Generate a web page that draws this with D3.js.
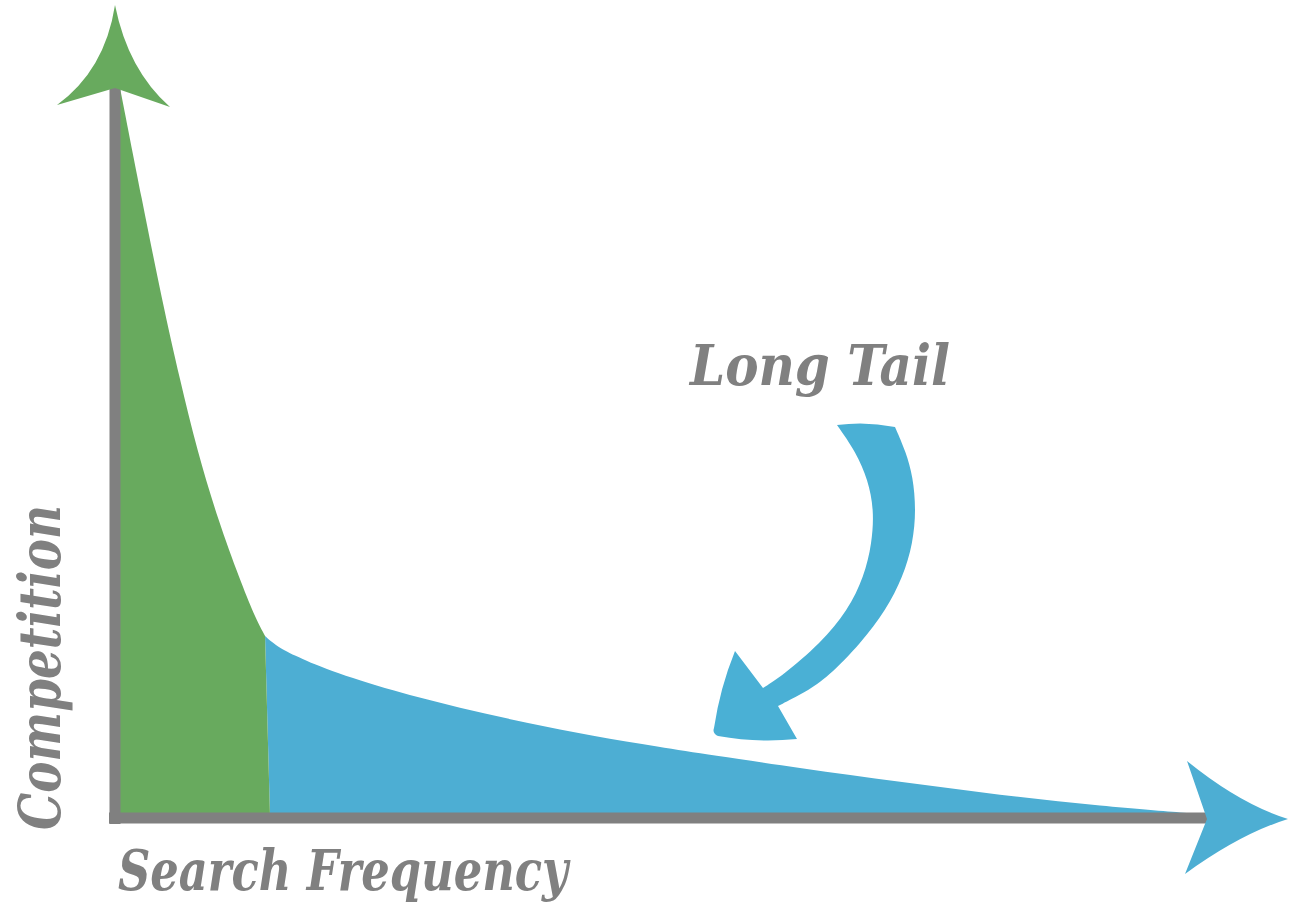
<!DOCTYPE html>
<html>
<head>
<meta charset="utf-8">
<script src="https://cdn.jsdelivr.net/npm/d3@7"></script>
<style>
  html, body { margin: 0; padding: 0; background: #fff; }
  svg { display: block; }
  text { font-family: "DejaVu Serif", serif; font-weight: bold; font-style: italic; fill: #808080; }
</style>
</head>
<body>
<svg id="chart" width="1290" height="904"></svg>
<script>
// ---- data ----
// Head (green) part of the demand curve
const headFreq        = [0.46, 2.47, 4.30, 5.95, 7.51, 9.43, 11.45, 12.73, 13.74];
const headCompetition = [100, 84.66, 70.96, 60.0, 50.41, 40.82, 32.60, 27.81, 24.93];
// Long tail (blue) part of the curve
const tailFreq        = [13.74, 14.65, 16.30, 19.41, 25.46, 31.59, 37.73, 43.77, 49.91, 54.49, 62.73, 71.89, 81.04, 90.20, 99.36];
const tailCompetition = [24.93, 23.70, 22.33, 20.27, 17.40, 15.07, 13.01, 11.23, 9.73, 8.63, 6.85, 4.93, 3.15, 1.64, 0.55];
// boundary between head and tail at the base
const splitBottomFreq = 14.2;
// labels
const xAxisLabel = "Search Frequency";
const yAxisLabel = "Competition";
const calloutLabel = "Long Tail";

// ---- scales ----
const x = d3.scaleLinear().domain([0, 100]).range([115, 1207]);
const y = d3.scaleLinear().domain([0, 100]).range([818, 88]);

const svg = d3.select("#chart");
const GREEN = "#68aa5e", BLUE = "#4daed3", ARROWBLUE = "#4ab0d5", GRAY = "#808080";

const line = d3.line().x(d => x(d[0])).y(d => y(d[1])).curve(d3.curveBasis);
const headPts = headFreq.map((f, i) => [f, headCompetition[i]]);
const tailPts = tailFreq.map((f, i) => [f, tailCompetition[i]]);

// tail area
svg.append("path")
  .attr("d", line(tailPts) + `L${x(100)},${y(0)}L${x(splitBottomFreq)},${y(0)}Z`)
  .attr("fill", BLUE);
// head area
svg.append("path")
  .attr("d", line(headPts) + `L${x(splitBottomFreq)},${y(0)}L${x(0)},${y(0)}Z`)
  .attr("fill", GREEN);

// axes
const x0 = x(0), y0 = y(0), yTop = y(100), xEnd = x(100);
svg.append("line").attr("x1", x0).attr("x2", x0).attr("y1", yTop).attr("y2", y0 + 6)
  .attr("stroke", GRAY).attr("stroke-width", 11);
svg.append("line").attr("x1", x0 - 6).attr("x2", xEnd).attr("y1", y0).attr("y2", y0)
  .attr("stroke", GRAY).attr("stroke-width", 11);

// y arrowhead (green)
const tipY = yTop - 83;
svg.append("path")
  .attr("d", `M${x0},${tipY} Q${x0 - 10},${yTop - 18} ${x0 - 58},${yTop + 17}
              L${x0},${yTop} L${x0 + 55},${yTop + 19}
              Q${x0 + 13},${yTop - 18} ${x0},${tipY} Z`)
  .attr("fill", GREEN);

// x arrowhead (blue)
const tipX = xEnd + 81;
svg.append("path")
  .attr("d", `M${tipX},${y0 + 1} Q${xEnd + 33},${y0 - 14} ${xEnd - 20},${y0 - 57}
              L${xEnd},${y0 + 1} L${xEnd - 22},${y0 + 56}
              Q${xEnd + 33},${y0 + 16} ${tipX},${y0 + 1} Z`)
  .attr("fill", BLUE);

// curved callout arrow (shape outline)
const outerEdge = [[895,427],[906,452],[913,477],[916,510],[913,543],[903,577],[886,610],[861,643],[828,677],[806,692],[778,706]];
const innerEdge = [[763,688],[782,676],[821,643],[848,610],[864,577],[872,543],[874,510],[868,480],[856,452],[837,425]];
const shapeLine = d3.line().curve(d3.curveBasis);
const outerD = shapeLine(outerEdge);
const innerD = shapeLine(innerEdge).replace(/^M/, "L");
svg.append("path")
  .attr("d", outerD +
        `L797,739 Q757,743 718,736 Q712,733 714,728 Q720,688 735,651 ` +
        innerD + ` Q866,421 895,427 Z`)
  .attr("fill", ARROWBLUE);

// labels
svg.append("text").attr("x", 690).attr("y", 385)
  .attr("font-size", 56).attr("textLength", 260).attr("lengthAdjust", "spacingAndGlyphs")
  .text(calloutLabel);
svg.append("text").attr("x", 118).attr("y", 890)
  .attr("font-size", 56).attr("textLength", 450).attr("lengthAdjust", "spacingAndGlyphs")
  .text(xAxisLabel);
svg.append("text").attr("transform", "translate(60,830) rotate(-90)")
  .attr("font-size", 58).attr("textLength", 325).attr("lengthAdjust", "spacingAndGlyphs")
  .text(yAxisLabel);
</script>
</body>
</html>
